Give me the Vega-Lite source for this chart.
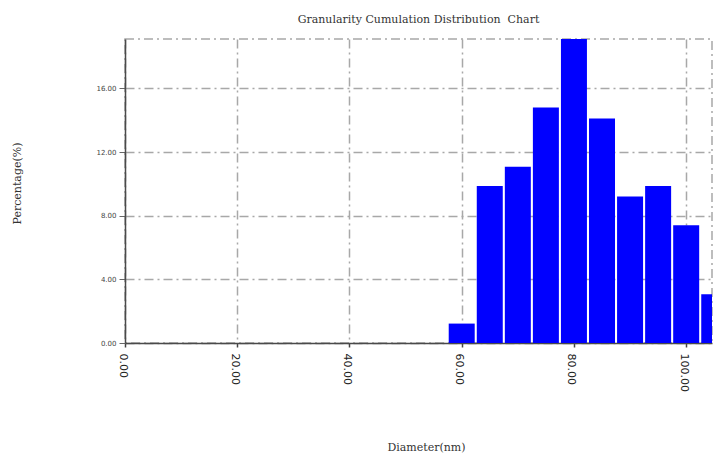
{
  "$schema": "https://vega.github.io/schema/vega-lite/v6.json",
  "autosize": "none",
  "width": 587,
  "height": 304,
  "padding": {"left": 125, "top": 39, "right": 2, "bottom": 112},
  "background": "white",
  "title": {
    "text": "Granularity Cumulation Distribution\u00a0 Chart",
    "font": "DejaVu Serif",
    "fontSize": 11,
    "fontWeight": "normal",
    "color": "#333333",
    "anchor": "middle",
    "baseline": "alphabetic",
    "offset": 14,
    "dy": 9
  },
  "config": {
    "view": {"stroke": "#a8a8a8", "strokeWidth": 1.5, "strokeDash": [9, 4, 2, 4]}
  },
  "data": {
    "values": [
      {"diameter": 60, "percentage": 1.22},
      {"diameter": 65, "percentage": 9.87},
      {"diameter": 70, "percentage": 11.07},
      {"diameter": 75, "percentage": 14.8},
      {"diameter": 80, "percentage": 19.1},
      {"diameter": 85, "percentage": 14.11},
      {"diameter": 90, "percentage": 9.21},
      {"diameter": 95, "percentage": 9.87},
      {"diameter": 100, "percentage": 7.4},
      {"diameter": 105, "percentage": 3.06}
    ]
  },
  "mark": {"type": "bar", "color": "#0000ff", "size": 26, "clip": true},
  "encoding": {
    "x": {
      "field": "diameter",
      "type": "quantitative",
      "scale": {"domain": [0, 104.6], "nice": false, "padding": 0},
      "axis": {
        "values": [0, 20, 40, 60, 80, 100],
        "format": ".2f",
        "labelAngle": 90,
        "labelAlign": "left",
        "labelBaseline": "middle",
        "labelOffset": -3,
        "labelFont": "DejaVu Sans",
        "labelFontSize": 11,
        "labelColor": "#222222",
        "labelPadding": 6,
        "tickSize": 4,
        "tickColor": "#444444",
        "tickWidth": 1.5,
        "domainColor": "#4a4a4a",
        "domainWidth": 1.5,
        "grid": true,
        "gridColor": "#a8a8a8",
        "gridWidth": 1.5,
        "gridDash": [9, 4, 2, 4],
        "title": "Diameter(nm)",
        "titleFont": "DejaVu Serif",
        "titleFontSize": 11,
        "titleFontWeight": "normal",
        "titleColor": "#333333",
        "titleX": 301,
        "titleY": 104,
        "titleAlign": "center",
        "titleBaseline": "middle"
      }
    },
    "y": {
      "field": "percentage",
      "type": "quantitative",
      "scale": {"domain": [0, 19.1], "nice": false, "padding": 0},
      "axis": {
        "values": [0, 4, 8, 12, 16],
        "format": ".2f",
        "labelFont": "DejaVu Sans",
        "labelFontSize": 7,
        "labelColor": "#444444",
        "labelPadding": 3,
        "tickSize": 6,
        "tickColor": "#666666",
        "domainColor": "#4a4a4a",
        "domainWidth": 1.5,
        "grid": true,
        "gridColor": "#a8a8a8",
        "gridWidth": 1.5,
        "gridDash": [9, 4, 2, 4],
        "title": "Percentage(%)",
        "titleFont": "DejaVu Serif",
        "titleFontSize": 11,
        "titleFontWeight": "normal",
        "titleColor": "#333333",
        "titleAngle": -90,
        "titleX": -108,
        "titleY": 144,
        "titleAlign": "center",
        "titleBaseline": "middle"
      }
    }
  }
}
